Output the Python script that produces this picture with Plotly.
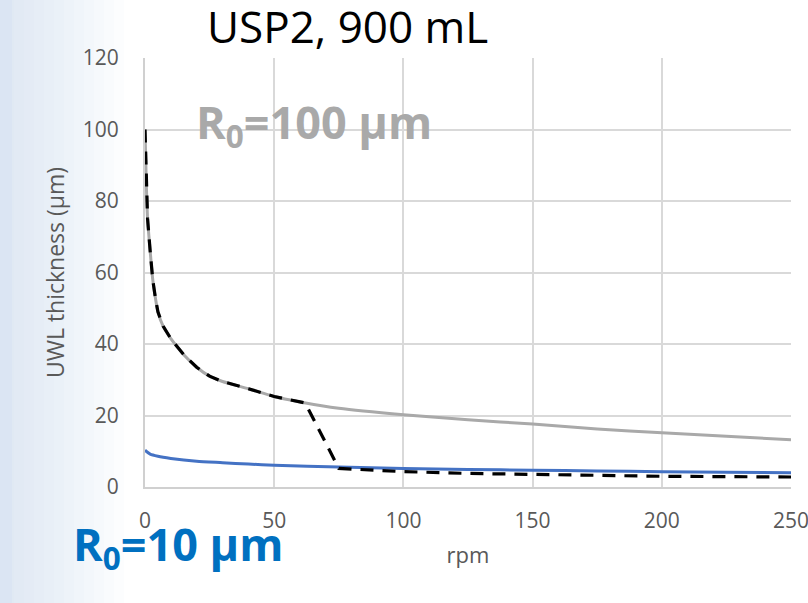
import plotly.graph_objects as go

# ---- data ----
rpm_grey = [0, 0.5, 1, 2, 3, 4, 5, 7, 10, 15, 20, 25, 30, 40, 50, 60, 75, 100, 125, 150, 175, 200, 225, 250]
uwl_grey = [100, 85, 75, 66, 58, 53, 49, 45, 41.5, 37, 33.5, 31, 29.5, 27.5, 25.3, 23.8, 22.0, 20.2, 18.8, 17.6, 16.2, 15.2, 14.2, 13.2]

rpm_blue = [0, 2, 5, 10, 20, 30, 40, 50, 75, 100, 125, 150, 175, 200, 225, 250]
uwl_blue = [10.3, 9.2, 8.6, 8.0, 7.2, 6.8, 6.4, 6.1, 5.6, 5.2, 4.9, 4.7, 4.5, 4.3, 4.15, 4.0]

rpm_dash = [0, 0.5, 1, 2, 3, 4, 5, 7, 10, 15, 20, 25, 30, 40, 50, 60, 62, 75, 100, 125, 150, 175, 200, 250]
uwl_dash = [100, 85, 75, 66, 58, 53, 49, 45, 41.5, 37, 33.5, 31, 29.5, 27.5, 25.3, 23.8, 23.5, 5.2, 4.3, 3.8, 3.5, 3.2, 3.0, 2.8]

x_ticks = [0, 50, 100, 150, 200, 250]
y_ticks = [0, 20, 40, 60, 80, 100, 120]

FONT = "Open Sans"
TICK_COLOR = "#595959"

fig = go.Figure()
fig.add_trace(go.Scatter(x=rpm_grey, y=uwl_grey, mode="lines",
                         line=dict(color="#a9a9a9", width=3, shape="spline", smoothing=0.6),
                         showlegend=False, hoverinfo="skip"))
fig.add_trace(go.Scatter(x=rpm_blue, y=uwl_blue, mode="lines",
                         line=dict(color="#4472c4", width=3, shape="spline", smoothing=0.6),
                         showlegend=False, hoverinfo="skip"))
fig.add_trace(go.Scatter(x=rpm_dash, y=uwl_dash, mode="lines",
                         line=dict(color="#000000", width=3.2, dash="13px,9px"),
                         showlegend=False, hoverinfo="skip"))

# left background gradient (light blue fading to white)
L, R, T, B = 145, 791, 58, 487
def px2paper(px):
    return (px - L) / (R - L)
def py2paper(py):
    return (B - py) / (B - T)

shapes = []
steps = 12
for i in range(steps):
    shapes.append(dict(type="rect", xref="paper", yref="paper", x0=px2paper(-5), x1=px2paper(14 + i * 10),
                       y0=-1, y1=2, layer="below", line=dict(width=0),
                       fillcolor="rgba(205,220,245,0.05)"))
shapes.append(dict(type="rect", xref="paper", yref="paper", x0=px2paper(-5), x1=px2paper(12),
                   y0=-1, y1=2, layer="below", line=dict(width=0),
                   fillcolor="rgba(205,220,245,0.25)"))

fig.update_layout(
    width=808, height=603,
    margin=dict(l=L, r=808 - R, t=T, b=603 - B),
    paper_bgcolor="white", plot_bgcolor="white",
    shapes=shapes,
    font=dict(family=FONT, color=TICK_COLOR),
    xaxis=dict(range=[0, 250], tickvals=x_ticks, showgrid=True, gridcolor="#d9d9d9", gridwidth=1.5,
               zeroline=False, showline=True, linecolor="#d0d0d0", linewidth=2,
               ticks="", tickfont=dict(size=21, color=TICK_COLOR, family=FONT),
               ticklabelstandoff=14, ticklabeloverflow="allow", automargin=False,
               title=dict(text="rpm", font=dict(size=22, color=TICK_COLOR, family=FONT), standoff=14)),
    yaxis=dict(range=[0, 120], tickvals=y_ticks, showgrid=True, gridcolor="#d9d9d9", gridwidth=1.5,
               zeroline=False, showline=True, linecolor="#d0d0d0", linewidth=2,
               ticks="", tickfont=dict(size=21, color=TICK_COLOR, family=FONT),
               ticklabelstandoff=20, automargin=False,
               title=dict(text="UWL thickness (µm)", font=dict(size=23, color=TICK_COLOR, family=FONT), standoff=12)),
    annotations=[
        dict(text="USP2, 900 mL", xref="paper", yref="paper", x=px2paper(347), y=py2paper(26),
             xanchor="center", yanchor="middle", showarrow=False,
             font=dict(size=44, color="#000000", family=FONT)),
        dict(text="<b>R<sub>0</sub>=100 µm</b>", xref="paper", yref="paper", x=px2paper(194), y=py2paper(124),
             xanchor="left", yanchor="middle", showarrow=False,
             font=dict(size=45, color="#a9a9a9", family=FONT)),
        dict(text="<b>R<sub>0</sub>=10 µm</b>", xref="paper", yref="paper", x=px2paper(71), y=py2paper(546),
             xanchor="left", yanchor="middle", showarrow=False,
             font=dict(size=45, color="#0070c0", family=FONT)),
    ],
)

fig.write_html("out.html", config={"displayModeBar": False},
               post_script="document.body.style.margin='0px';document.body.style.overflow='hidden';")
